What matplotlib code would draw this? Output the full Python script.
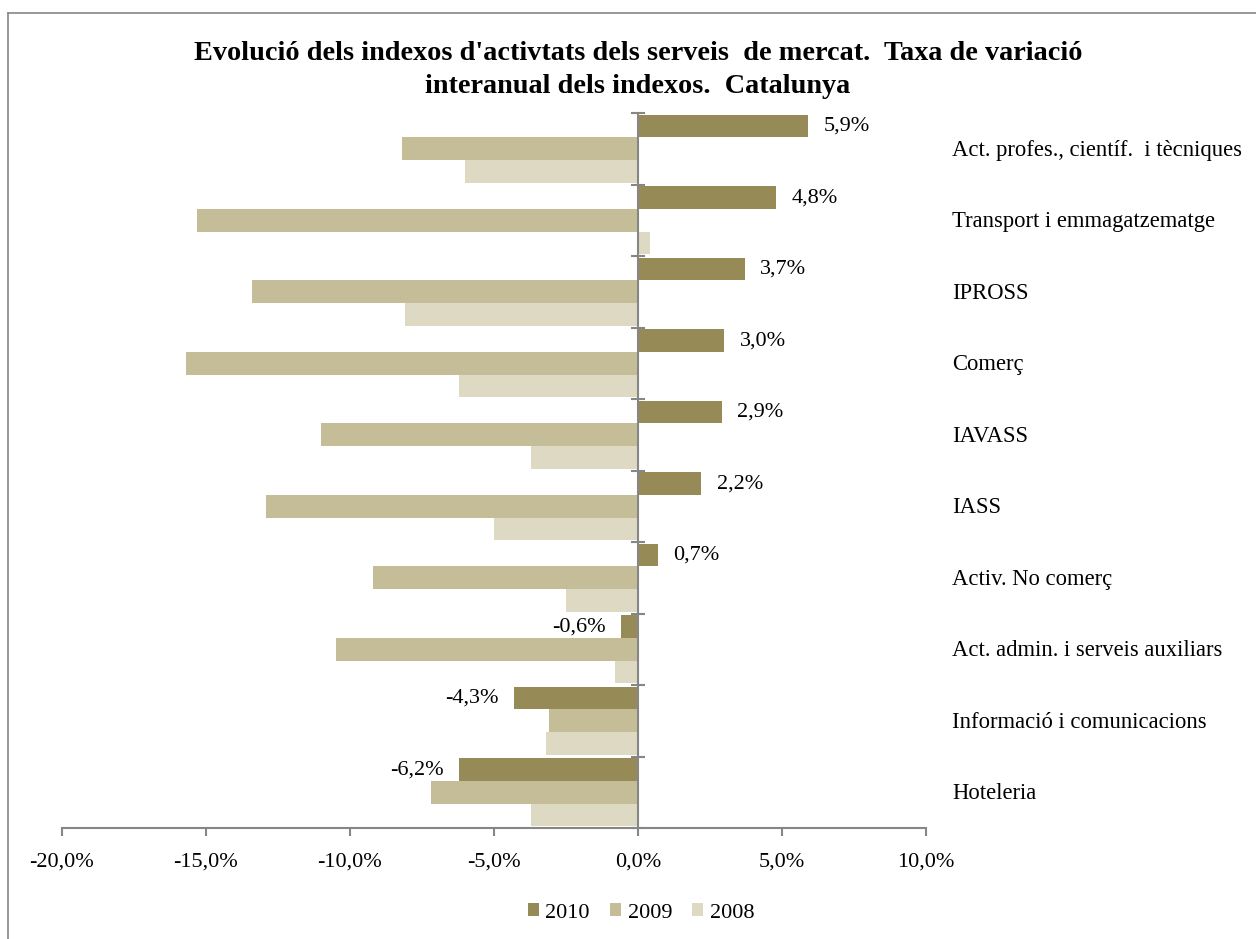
import numpy as np
import matplotlib.pyplot as plt
from matplotlib.lines import Line2D
from matplotlib.patches import Patch

plt.rcParams['font.family'] = ['Liberation Serif', 'DejaVu Serif']

# Categories (top to bottom) and yearly rates of change (%)
categories = ['Act. profes., científ.  i tècniques', 'Transport i emmagatzematge', 'IPROSS',
              'Comerç', 'IAVASS', 'IASS', 'Activ. No comerç',
              'Act. admin. i serveis auxiliars', 'Informació i comunicacions', 'Hoteleria']
v2010 = [5.9, 4.8, 3.7, 3.0, 2.9, 2.2, 0.7, -0.6, -4.3, -6.2]
v2009 = [-8.2, -15.3, -13.4, -15.7, -11.0, -12.9, -9.2, -10.5, -3.1, -7.2]
v2008 = [-6.0, 0.4, -8.1, -6.2, -3.7, -5.0, -2.5, -0.8, -3.2, -3.7]

years = ['2010', '2009', '2008']
colors = ['#968B56', '#C4BD97', '#DDD9C3']

W, H = 1256, 939
fig = plt.figure(figsize=(W / 100, H / 100), dpi=100)
ax = fig.add_axes([62 / W, 1 - 828 / H, 864 / W, 715 / H])

y = np.arange(len(categories))
h = 0.315
for k, (vals, col) in enumerate(zip([v2010, v2009, v2008], colors)):
    ax.barh(y + (k - 1) * h, vals, height=h, color=col, edgecolor='none', zorder=2)

# value labels for 2010
for yi, v in zip(y, v2010):
    label = f'{v:.1f}%'.replace('.', ',')
    if v >= 0:
        ax.annotate(label, (v, yi - h), xytext=(11, 0), textcoords='offset points',
                    ha='left', va='center', fontsize=16)
    else:
        ax.annotate(label, (v, yi - h), xytext=(-11, 0), textcoords='offset points',
                    ha='right', va='center', fontsize=16)

ax.set_xlim(-20, 10)
ax.set_ylim(len(categories) - 0.5, -0.5)

ax.set_xticks(np.arange(-20, 10.1, 5))
ax.set_xticklabels([f'{t:.1f}%'.replace('.', ',') for t in np.arange(-20, 10.1, 5)], fontsize=16)
ax.tick_params(axis='x', direction='out', length=6, width=1.5, color='#868686', pad=12)

ax.set_yticks(np.arange(-0.5, len(categories), 1))
ax.set_yticklabels([])
ax.tick_params(axis='y', direction='inout', length=10, width=1.5, color='#868686')

for s in ['top', 'right']:
    ax.spines[s].set_visible(False)
ax.spines['left'].set_position(('data', 0))
ax.spines['left'].set_color('#868686')
ax.spines['left'].set_linewidth(1.5)
ax.spines['left'].set_zorder(3)
ax.spines['bottom'].set_color('#868686')
ax.spines['bottom'].set_linewidth(1.5)

# category labels on the right
tr = ax.get_yaxis_transform()
for yi, c in zip(y, categories):
    ax.text(1.030, yi + 0.02, c, transform=tr, ha='left', va='center', fontsize=16.3)

fig.text(638 / W, 1 - 70 / H,
         "Evolució dels indexos d'activtats dels serveis  de mercat.  Taxa de variació\n"
         "interanual dels indexos.  Catalunya",
         ha='center', va='center', fontsize=20.3, fontweight='bold', linespacing=1.4)

handles = [Patch(facecolor=c, edgecolor='none') for c in colors]
fig.legend(handles, years, loc='center', bbox_to_anchor=(641 / W, 1 - 913 / H),
           ncol=3, frameon=False, fontsize=16, handlelength=0.5, handleheight=0.5,
           handletextpad=0.3, columnspacing=0.9)

# outer chart frame (cut at right and bottom)
fig.add_artist(Line2D([8 / W, 1], [1 - 12.7 / H, 1 - 12.7 / H], transform=fig.transFigure,
                      color='#868686', lw=1.2))
fig.add_artist(Line2D([8 / W, 8 / W], [0, 1 - 12.7 / H], transform=fig.transFigure,
                      color='#868686', lw=1.2))

fig.savefig('out.png', dpi=100)
